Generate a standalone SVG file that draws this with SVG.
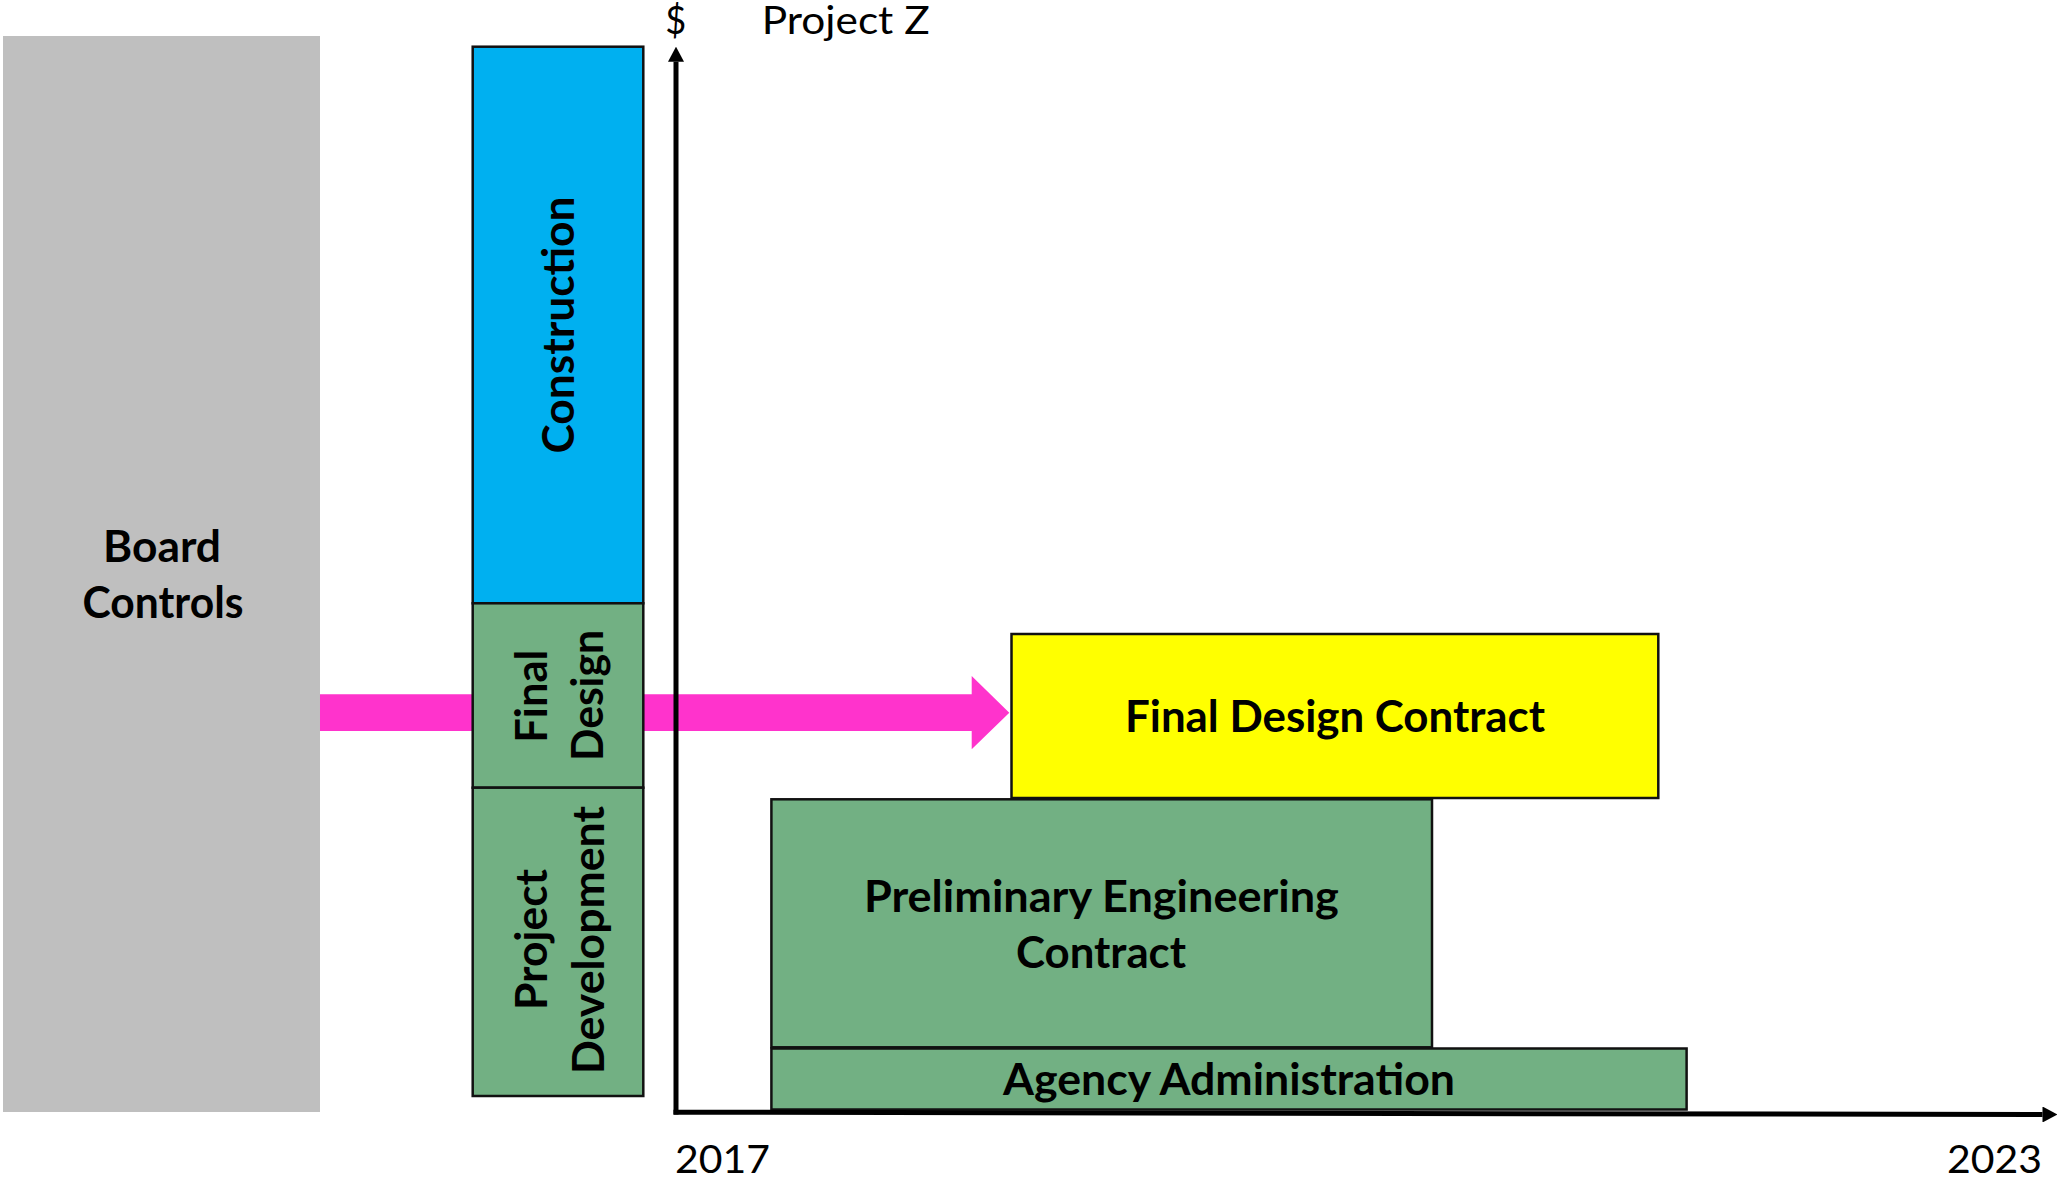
<svg xmlns="http://www.w3.org/2000/svg" width="2057" height="1177" viewBox="0 0 2057 1177">
<style>
.b{font-family:Lato,"Open Sans","Liberation Sans",sans-serif;font-weight:700;font-size:44px;fill:#000}
.r{font-family:Lato,"Open Sans","Liberation Sans",sans-serif;font-weight:400;font-size:39px;fill:#000}
.box{stroke:#111;stroke-width:2.5}
.green{fill:#72B083}
.axis{stroke:#000;stroke-width:5;fill:none}
</style>
<defs>
<marker id="ah" viewBox="0 0 15 16" refX="0" refY="8" markerWidth="15" markerHeight="16" markerUnits="userSpaceOnUse" orient="auto">
<path d="M0,0 L15,8 L0,16 z" fill="#000"/>
</marker>
</defs>
<rect width="2057" height="1177" fill="#fff"/>
<g id="connectors">
<polygon id="flow-arrow" points="320,694.3 971.7,694.3 971.7,676 1009.3,712.7 971.7,749.3 971.7,731 320,731" fill="#FF33CC"/>
</g>
<g id="board-controls">
<rect x="3" y="36" width="317" height="1076" fill="#BFBFBF"/>
<text class="b" x="162" y="561.7" text-anchor="middle" textLength="118" lengthAdjust="spacingAndGlyphs">Board</text>
<text class="b" x="163" y="618.3" text-anchor="middle" textLength="161" lengthAdjust="spacingAndGlyphs">Controls</text>
</g>
<g id="construction">
<rect class="box" x="472.7" y="46.7" width="170.6" height="556.6" fill="#00B0F0"/>
<text class="b" transform="translate(574,325) rotate(-90)" text-anchor="middle" textLength="257" lengthAdjust="spacingAndGlyphs">Construction</text>
</g>
<g id="final-design">
<rect class="box green" x="472.7" y="603.3" width="170.6" height="184.4"/>
<text class="b" transform="translate(546.7,696.2) rotate(-90)" text-anchor="middle" textLength="93" lengthAdjust="spacingAndGlyphs">Final</text>
<text class="b" transform="translate(603.3,695.5) rotate(-90)" text-anchor="middle" textLength="131" lengthAdjust="spacingAndGlyphs">Design</text>
</g>
<g id="project-development">
<rect class="box green" x="472.7" y="787.7" width="170.6" height="308.3"/>
<text class="b" transform="translate(546.7,939.5) rotate(-90)" text-anchor="middle" textLength="141" lengthAdjust="spacingAndGlyphs">Project</text>
<text class="b" transform="translate(604,940) rotate(-90)" text-anchor="middle" textLength="268" lengthAdjust="spacingAndGlyphs">Development</text>
</g>
<g id="final-design-contract">
<rect class="box" x="1011.5" y="634" width="646.8" height="164" fill="#FFFF00"/>
<text class="b" x="1335" y="731.7" text-anchor="middle" textLength="420" lengthAdjust="spacingAndGlyphs">Final Design Contract</text>
</g>
<g id="preliminary-engineering-contract">
<rect class="box green" x="771.4" y="799.3" width="660.6" height="248"/>
<text class="b" x="1101.4" y="911.7" text-anchor="middle" textLength="475" lengthAdjust="spacingAndGlyphs">Preliminary Engineering</text>
<text class="b" x="1101" y="968.3" text-anchor="middle" textLength="170" lengthAdjust="spacingAndGlyphs">Contract</text>
</g>
<g id="agency-administration">
<rect class="box green" x="771.4" y="1048.5" width="915.2" height="61"/>
<text class="b" x="1229" y="1095" text-anchor="middle" textLength="452" lengthAdjust="spacingAndGlyphs">Agency Administration</text>
</g>
<g id="axes">
<line class="axis" x1="676" y1="1114.5" x2="676" y2="61.7" marker-end="url(#ah)"/>
<line class="axis" x1="673.5" y1="1112.2" x2="2042.5" y2="1114.5" marker-end="url(#ah)"/>
<text class="r" x="675.7" y="34" text-anchor="middle" textLength="21" lengthAdjust="spacingAndGlyphs">$</text>
<text class="r" x="761.7" y="34" textLength="168" lengthAdjust="spacingAndGlyphs">Project Z</text>
<text class="r" x="675" y="1173" textLength="95" lengthAdjust="spacingAndGlyphs">2017</text>
<text class="r" x="1947" y="1173" textLength="95" lengthAdjust="spacingAndGlyphs">2023</text>
</g>
</svg>
